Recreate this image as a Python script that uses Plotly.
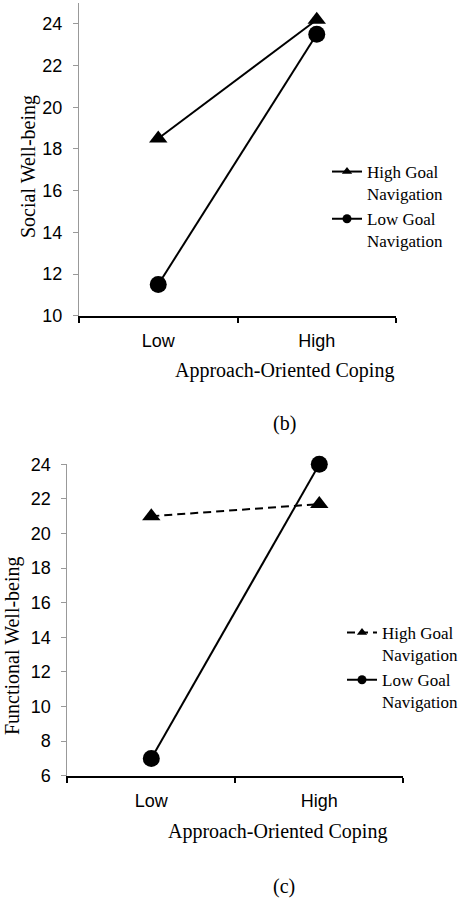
import plotly.graph_objects as go

categories = ["Low", "High"]
series_names = ["High Goal<br>Navigation", "Low Goal<br>Navigation"]

social_high_goal = [18.5, 24.2]
social_low_goal = [11.5, 23.5]

functional_high_goal = [21.0, 21.7]
functional_low_goal = [7.0, 24.0]

social_ticks = [10, 12, 14, 16, 18, 20, 22, 24]
functional_ticks = [6, 8, 10, 12, 14, 16, 18, 20, 22, 24]

W, H = 463, 900
SERIF = "Liberation Serif, Times New Roman, serif"
SANS = "Liberation Sans, Arial, sans-serif"

fig = go.Figure()

def px_x(p):
    return p / W

def px_y(p):
    return 1 - p / H

def add_series(x, y, name, symbol, size, dash, xa, ya, leg):
    # the plotted series (legend entry drawn by a small-marker twin below)
    fig.add_trace(go.Scatter(
        x=x, y=y, name=name, mode="lines+markers",
        line=dict(color="black", width=2, dash=dash),
        marker=dict(symbol=symbol, size=size, color="black"),
        xaxis=xa, yaxis=ya, showlegend=False, cliponaxis=False))
    # legend key with the smaller marker used in the reference legend
    fig.add_trace(go.Scatter(
        x=[None], y=[None], name=name, mode="lines+markers",
        line=dict(color="black", width=2, dash=dash),
        marker=dict(symbol=symbol, size=9, color="black"),
        xaxis=xa, yaxis=ya, legend=leg, showlegend=True, hoverinfo="skip"))

# top chart (b)
add_series(categories, social_high_goal, series_names[0], "triangle-up", 16, "solid", "x", "y", "legend")
add_series(categories, social_low_goal, series_names[1], "circle", 17, "solid", "x", "y", "legend")
# bottom chart (c)
add_series(categories, functional_high_goal, series_names[0], "triangle-up", 16, "8px,5px", "x2", "y2", "legend2")
add_series(categories, functional_low_goal, series_names[1], "circle", 17, "solid", "x2", "y2", "legend2")

xcommon = dict(type="category", range=[-0.5, 1.5], showgrid=False, zeroline=False,
               showline=True, linecolor="black", linewidth=2, automargin=False,
               ticks="outside", tickson="boundaries", ticklen=5, tickwidth=1.5,
               tickcolor="black", ticklabelstandoff=8,
               tickfont=dict(family=SANS, size=18, color="black"))
ycommon = dict(showgrid=False, zeroline=False, showline=True, linecolor="#999999",
               linewidth=1, ticks="outside", ticklen=5, tickcolor="#999999",
               ticklabelstandoff=7, automargin=False,
               tickfont=dict(family=SANS, size=18, color="black"))

legend_common = dict(xanchor="left", yanchor="top", bgcolor="rgba(0,0,0,0)",
                     valign="top", tracegroupgap=0, itemsizing="trace",
                     font=dict(family=SERIF, size=17, color="black"))

fig.update_layout(
    width=W, height=H,
    margin=dict(l=0, r=0, t=0, b=0, autoexpand=False),
    paper_bgcolor="white", plot_bgcolor="white",
    xaxis=dict(domain=[px_x(79), px_x(396)], anchor="y", **xcommon),
    yaxis=dict(domain=[px_y(315.7), px_y(3)], anchor="x", range=[10, 25],
               tickvals=social_ticks, **ycommon),
    xaxis2=dict(domain=[px_x(67.3), px_x(403.3)], anchor="y2", **xcommon),
    yaxis2=dict(domain=[px_y(775.7), px_y(464.3)], anchor="x2", range=[6, 24],
                tickvals=functional_ticks, **ycommon),
    legend=dict(x=px_x(327), y=px_y(154), **legend_common),
    legend2=dict(x=px_x(342), y=px_y(615), **legend_common),
    showlegend=True,
)

annots = [
    dict(text="Social Well-being", x=px_x(28), y=px_y(167), textangle=-90),
    dict(text="Functional Well-being", x=px_x(12), y=px_y(646), textangle=-90),
    dict(text="Approach-Oriented Coping", x=px_x(284.5), y=px_y(370)),
    dict(text="Approach-Oriented Coping", x=px_x(277), y=px_y(831)),
    dict(text="(b)", x=px_x(284), y=px_y(424)),
    dict(text="(c)", x=px_x(284), y=px_y(886)),
]
for a in annots:
    fig.add_annotation(xref="paper", yref="paper", showarrow=False,
                       xanchor="center", yanchor="middle",
                       font=dict(family=SERIF, size=20, color="black"), **a)

fig.write_html("out.html", config={"displayModeBar": False},
               post_script="document.body.style.margin='0';document.body.style.overflow='hidden';")
